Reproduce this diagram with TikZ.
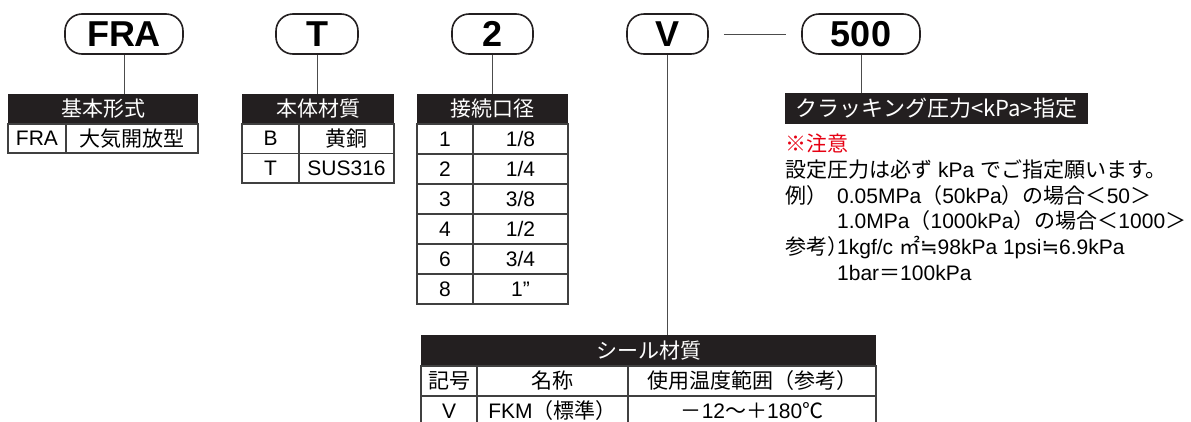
\documentclass[tikz,border=0pt]{standalone}
\usepackage{fontspec}
\setmainfont{Liberation Sans}
\newfontfamily\jp{Noto Sans CJK JP}
\newfontfamily\sym{DejaVu Sans}
\usetikzlibrary{positioning}
\definecolor{ink}{HTML}{231F20}
\definecolor{notered}{HTML}{E60012}

\begin{document}
\begin{tikzpicture}[x=1pt,y=-1pt,
    pill/.style={draw=ink,line width=1.6pt,rounded corners=17pt,minimum height=40pt,inner sep=0pt,font=\bfseries\fontsize{36}{36}\selectfont},
    head/.style={fill=ink,text=white,minimum height=30pt,inner sep=0pt,font=\jp\fontsize{21}{21}\selectfont},
    cell/.style={draw=black!75,line width=1.2pt,minimum height=29.5pt,inner sep=0pt,font=\fontsize{21}{21}\selectfont},
    link/.style={draw=black!70,line width=1pt},
    txt/.style={anchor=base west,inner sep=0pt,font=\fontsize{21}{21}\selectfont}]
  \useasboundingbox (0,0) rectangle (1191,421);
  \clip (0,0) rectangle (1191,421);

  \node [pill,minimum width=118pt] (fra) at (124,34) {FRA};
  \node [pill,minimum width=82pt] (body) at (317,34) {T};
  \node [pill,minimum width=81pt] (port) at (492.5,34) {2};
  \node [pill,minimum width=81pt] (seal) at (667.5,34) {V};
  \node [pill,minimum width=118pt] (crack) at (861,34) {500};
  \draw [link] ([xshift=15pt]seal.east) -- ([xshift=-15pt]crack.west);

  \node [head,minimum width=190pt] (kihon) at (103,109) {基本形式};
  \node [cell,minimum width=58pt,minimum height=29pt] (kihonA) at (37,138.5) {FRA};
  \node [cell,minimum width=132pt,minimum height=29pt] (kihonB) at (132,138.5) {\jp 大気開放型};
  \draw [link] (fra.south) -- (fra.south |- kihon.north);

  \node [head,minimum width=152pt] (zaisitu) at (318,109) {本体材質};
  \node [cell,minimum width=57pt] (zaisituA0) at (270.5,138.75) {B};
  \node [cell,minimum width=95pt] (zaisituB0) at (346.5,138.75) {\jp 黄銅};
  \node [cell,minimum width=57pt] (zaisituA1) at (270.5,168.25) {T};
  \node [cell,minimum width=95pt] (zaisituB1) at (346.5,168.25) {SUS316};
  \draw [link] (body.south) -- (body.south |- zaisitu.north);

  \node [head,minimum width=151pt] (kokei) at (492.5,109) {接続口径};
  \foreach \code/\size [count=\i from 0] in {1/{1/8},2/{1/4},3/{3/8},4/{1/2},6/{3/4},8/{1”}}
    {\node [cell,minimum width=56pt,minimum height=30pt] (kokeiA\i) at (445,139+30*\i) {\code};
     \node [cell,minimum width=95pt,minimum height=30pt] (kokeiB\i) at (520.5,139+30*\i) {\size};}
  \draw [link] (port.south) -- (port.south |- kokei.north);

  \node [head,minimum width=455pt,minimum height=31pt] (sealhead) at (648.5,350.5) {シール材質};
  \node [cell,minimum width=56pt,minimum height=30pt] (sealA0) at (449,381) {\jp 記号};
  \node [cell,minimum width=151pt,minimum height=30pt] (sealB0) at (552.5,381) {\jp 名称};
  \node [cell,minimum width=248pt,minimum height=30pt] (sealC0) at (752,381) {\jp 使用温度範囲（参考）};
  \node [cell,minimum width=56pt,minimum height=30pt] (sealA1) at (449,411) {V};
  \node [cell,minimum width=151pt,minimum height=30pt] (sealB1) at (552.5,411) {FKM{\jp （標準）}};
  \node [cell,minimum width=248pt,minimum height=30pt] (sealC1) at (752,411) {{\jp －}12{\jp ～＋}180{\jp ℃}};
  \draw [link] (seal.south) -- (seal.south |- sealhead.north);

  \node [head,minimum width=303pt,minimum height=31pt,font=\jp\fontsize{22}{22}\selectfont] (crackhead) at (936.5,108.5) {クラッキング圧力<kPa>指定};
  \draw [link] (crack.south) -- (crack.south |- crackhead.north);

  \node [txt,text=notered] (note) at (785,151) {\jp ※注意};
  \node [txt] (rule) at (785,177) {{\jp 設定圧力は必ず} kPa {\jp でご指定願います。}};
  \node [txt] (ex) at (785,203) {\jp 例）};
  \node [txt] (exA) at (837,203) {0.05MPa{\jp （}50kPa{\jp ）の場合＜}50{\jp ＞}};
  \node [txt] (exB) at (837,228) {1.0MPa{\jp （}1000kPa{\jp ）の場合＜}1000{\jp ＞}};
  \node [txt] (ref) at (785,254) {\jp 参考）};
  \node [txt] (refA) at (837,254) {1kgf/c {\jp ㎡}{\sym ≒}98kPa 1psi{\sym ≒}6.9kPa};
  \node [txt] (refB) at (837,280) {1bar{\jp ＝}100kPa};
\end{tikzpicture}
\end{document}
